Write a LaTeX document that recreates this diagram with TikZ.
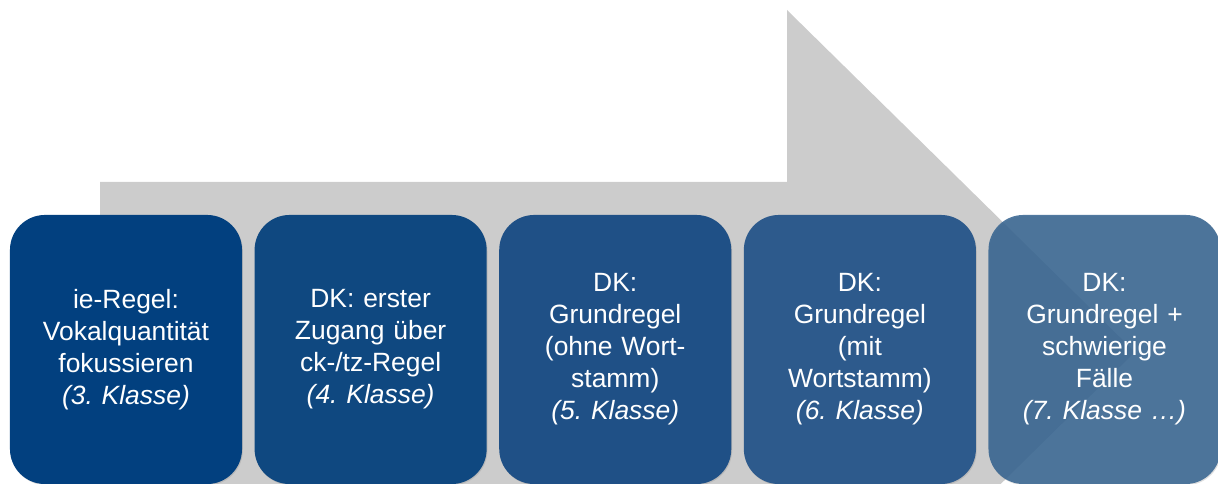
\documentclass[tikz,border=0pt]{standalone}
\usepackage{fontspec}
\setmainfont{Liberation Sans}
\usepackage{xcolor}
\usetikzlibrary{positioning,shadows}
\definecolor{arrowgray}{HTML}{CCCCCC}
\definecolor{stepA}{HTML}{02407F}
\definecolor{stepB}{HTML}{0F4880}
\definecolor{stepC}{HTML}{1F5086}
\definecolor{stepD}{HTML}{2D5A8C}
\definecolor{stepE}{HTML}{33628F}
\frenchspacing
\tikzset{
  stage/.style={rounded corners=0.875cm, minimum width=5.8cm, minimum height=6.725cm,
    text width=5.4cm, align=center, text=white, inner sep=0pt,
    font=\fontsize{18.8}{22.8}\selectfont,
    drop shadow={opacity=0.25, shadow xshift=0.6pt, shadow yshift=-0.8pt}},
}
\begin{document}
\begin{tikzpicture}[x=0.025cm, y=-0.025cm, node distance=0.3cm]
\useasboundingbox (0,0) rectangle (1218,484);
\clip (0,0) rectangle (1218,484);
\fill[arrowgray] (100,182) -- (787,182) -- (787,10) -- (1135,352) -- (787,694) -- (787,522) -- (100,522) -- cycle;
\node[stage, fill=stepA] (klasse3) at (126,349.5) {ie-Regel:\\ Vokalquantität\\ fokussieren\\ \textit{(3. Klasse)}};
\node[stage, fill=stepB, right=of klasse3] (klasse4) {DK: erster\\ Zugang über\\ ck-/tz-Regel\\ \textit{(4. Klasse)}};
\node[stage, fill=stepC, right=of klasse4] (klasse5) {DK:\\ Grundregel\\ (ohne Wort-\\ stamm)\\ \textit{(5. Klasse)}};
\node[stage, fill=stepD, right=of klasse5] (klasse6) {DK:\\ Grundregel\\ (mit\\ Wortstamm)\\ \textit{(6. Klasse)}};
\node[stage, fill=stepE, fill opacity=0.85, text opacity=1, right=of klasse6] (klasse7) {DK:\\ Grundregel +\\ schwierige\\ Fälle\\ \textit{(7. Klasse …)}};
\end{tikzpicture}
\end{document}
